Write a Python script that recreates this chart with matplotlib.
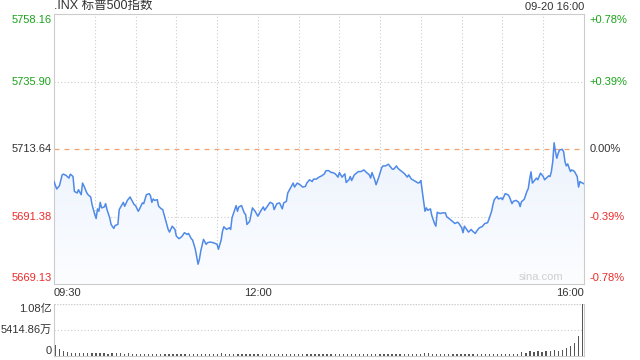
import numpy as np
import matplotlib
matplotlib.use("Agg")
import matplotlib.pyplot as plt
from matplotlib.colors import LinearSegmentedColormap
from matplotlib.patches import Polygon

plt.rcParams['font.family'] = ['Liberation Sans', 'Noto Sans CJK SC', 'DejaVu Sans']

# minutes after 09:30 and index level
minutes = [0, 2, 4, 6, 7, 9, 11, 12, 14, 15, 17, 18, 20, 21, 22, 24, 25, 27, 28, 30,
           31, 32, 33, 34, 35, 37, 38, 39, 41, 42, 44, 45, 47, 48, 50, 51, 52, 54, 56, 57,
           59, 60, 62, 63, 65, 66, 68, 70, 71, 72, 73, 74, 76, 77, 79, 80, 82, 84, 85, 87,
           89, 90, 92, 94, 96, 98, 99, 101, 102, 104, 106, 107, 108, 110, 112, 113, 115, 117, 119, 120,
           121, 123, 124, 125, 127, 129, 130, 131, 133, 134, 135, 136, 138, 140, 141, 142, 144, 146, 148, 150,
           152, 154, 155, 157, 159, 161, 162, 164, 166, 168, 169, 171, 172, 174, 176, 177, 179, 181, 183, 185,
           186, 188, 190, 191, 193, 195, 197, 199, 200, 202, 204, 205, 207, 209, 210, 212, 214, 215, 217, 218,
           219, 221, 223, 224, 226, 228, 230, 232, 233, 234, 236, 237, 239, 240, 241, 242, 244, 246, 247, 249,
           250, 252, 253, 255, 256, 258, 260, 261, 263, 264, 266, 268, 269, 270, 271, 272, 273, 274, 275, 277,
           278, 280, 281, 282, 284, 286, 288, 289, 291, 293, 295, 297, 298, 300, 301, 302, 304, 305, 307, 308,
           310, 311, 313, 315, 317, 319, 320, 322, 323, 324, 326, 327, 329, 330, 332, 334, 335, 337, 338, 340,
           342, 343, 344, 346, 348, 349, 350, 351, 352, 353, 355, 356, 358, 360, 361, 363, 364, 365, 366, 367,
           368, 369, 370, 371, 372, 374, 375, 376, 377, 378, 380, 381, 382, 383, 385, 386, 387, 388, 390]
price = [5702.93, 5700.45, 5701.53, 5705.13, 5705.36, 5704.90, 5704.05, 5705.36, 5704.57, 5699.66,
         5699.14, 5700.22, 5698.58, 5702.41, 5701.53, 5699.33, 5698.58, 5697.83, 5695.31, 5692.03,
         5690.72, 5693.90, 5693.11, 5696.06, 5694.23, 5694.55, 5695.63, 5693.67, 5690.95, 5688.76,
         5687.45, 5688.43, 5688.76, 5693.67, 5695.31, 5696.06, 5694.75, 5696.71, 5697.83, 5696.94,
         5695.31, 5695.00, 5693.11, 5693.90, 5695.86, 5695.63, 5698.58, 5698.91, 5698.25, 5696.06,
         5697.17, 5696.71, 5696.94, 5694.75, 5693.90, 5693.67, 5690.39, 5687.12, 5686.24, 5688.20,
         5687.12, 5684.93, 5684.08, 5684.73, 5686.04, 5685.48, 5685.81, 5684.08, 5683.62, 5680.57,
         5675.66, 5677.30, 5680.02, 5683.85, 5682.21, 5682.77, 5682.96, 5682.77, 5682.44, 5682.21,
         5680.57, 5683.62, 5686.56, 5688.01, 5687.12, 5687.68, 5687.12, 5690.95, 5693.67, 5694.98,
         5693.11, 5694.55, 5694.98, 5692.59, 5692.03, 5688.76, 5689.84, 5694.23, 5693.11, 5691.48,
         5693.11, 5694.55, 5693.44, 5694.75, 5696.06, 5695.63, 5693.67, 5695.63, 5695.86, 5693.90,
         5695.86, 5696.39, 5699.14, 5700.77, 5702.41, 5701.10, 5702.41, 5701.85, 5701.10, 5701.30,
         5702.41, 5703.49, 5702.93, 5703.72, 5703.72, 5704.37, 5704.80, 5705.45, 5706.44, 5706.54,
         5705.88, 5705.90, 5705.45, 5704.37, 5705.88, 5704.37, 5705.45, 5702.61, 5703.49, 5704.57,
         5703.26, 5705.13, 5705.88, 5706.21, 5706.21, 5706.76, 5705.88, 5705.13, 5704.05, 5705.88,
         5703.49, 5701.85, 5704.37, 5705.88, 5707.32, 5708.07, 5708.07, 5708.63, 5708.07, 5706.99,
         5706.99, 5708.07, 5707.32, 5706.54, 5706.21, 5705.45, 5704.37, 5705.13, 5703.72, 5703.49,
         5702.93, 5702.41, 5702.61, 5703.26, 5699.66, 5696.39, 5693.11, 5694.23, 5693.44, 5693.90,
         5691.71, 5689.08, 5688.20, 5692.78, 5692.36, 5692.59, 5692.59, 5691.28, 5690.62, 5689.84,
         5689.08, 5689.51, 5689.08, 5687.68, 5686.04, 5688.20, 5686.89, 5686.24, 5687.12, 5686.56,
         5685.81, 5686.56, 5687.68, 5688.01, 5689.08, 5689.31, 5690.39, 5693.11, 5695.31, 5696.94,
         5698.02, 5697.17, 5697.50, 5696.94, 5698.91, 5698.58, 5698.02, 5695.63, 5696.39, 5696.71,
         5696.06, 5694.65, 5696.29, 5697.04, 5699.66, 5700.61, 5703.72, 5706.11, 5702.41, 5702.93,
         5704.05, 5703.49, 5705.68, 5704.57, 5703.49, 5704.37, 5704.80, 5704.57, 5706.21, 5709.48,
         5715.70, 5712.76, 5710.60, 5712.23, 5713.31, 5713.54, 5712.76, 5709.48, 5708.07, 5708.73,
         5706.21, 5706.76, 5706.54, 5706.21, 5704.57, 5701.10, 5702.93, 5702.61, 5702.18]

prev_close = 5713.64
y_ticks = [5758.16, 5735.90, 5713.64, 5691.38, 5669.13]
pct_labels = ["+0.78%", "+0.39%", "0.00%", "-0.39%", "-0.78%"]
time_labels = ["09:30", "12:00", "16:00"]
time_ticks = [0, 150, 390]

# volume in 万 shares, one bar every 3 minutes
vol_minutes = list(range(0, 391, 3))
volume = [2300, 1500, 1100, 800, 700, 650, 600, 620, 580, 600, 550, 600, 580, 520, 560, 600, 540, 500,
          560, 520, 480, 500, 520, 470, 450, 480, 460, 440, 470, 430, 450, 420, 440, 410, 430, 460,
          420, 400, 430, 410, 450, 700, 520, 480, 440, 420, 450, 410, 430, 400, 390, 420, 400, 380,
          410, 390, 370, 400, 380, 360, 390, 370, 350, 380, 360, 340, 370, 350, 330, 360, 340, 350,
          330, 360, 340, 320, 350, 330, 340, 360, 330, 350, 320, 340, 360, 330, 350, 340, 400, 380,
          500, 620, 560, 480, 450, 420, 400, 380, 400, 370, 390, 420, 400, 380, 410, 430, 400, 420,
          440, 410, 430, 450, 420, 460, 480, 900, 700, 1000, 800, 950, 900, 1000, 1100, 1200, 1000,
          1300, 1600, 2000, 2700, 4200, 10800]
vol_ticks = [0, 5414.86, 10829.72]
vol_labels = ["0", "5414.86万", "1.08亿"]

green = "#1aa31a"
red = "#ee2b2b"
dark = "#333333"
grid_c = "#cccccc"
line_c = "#4f8ae8"

fig = plt.figure(figsize=(6.4, 3.6), dpi=100)
ax = fig.add_axes([54 / 640, 1 - 284 / 360, 530 / 640, 270 / 360])
axv = fig.add_axes([54 / 640, 1 - 356 / 360, 530 / 640, 52 / 360])

ymin, ymax = y_ticks[-1], y_ticks[0]
ax.set_xlim(0, 390)
ax.set_ylim(ymin, ymax)

# gradient fill under the line
cmap = LinearSegmentedColormap.from_list("fill", ["#fcfdff", "#dae7fb"])
grad = np.linspace(0, 1, 256).reshape(-1, 1)
im = ax.imshow(grad, extent=[0, 390, ymin, ymax], origin="lower", aspect="auto",
               cmap=cmap, zorder=1, vmin=0, vmax=1.15)
poly = Polygon(list(zip(minutes, price)) + [(390, ymin), (0, ymin)], closed=True,
               facecolor="none", edgecolor="none")
ax.add_patch(poly)
im.set_clip_path(poly)

ax.plot(minutes, price, color=line_c, lw=1.1, zorder=3)

for t in range(30, 390, 30):
    ax.axvline(t, color=grid_c, lw=0.8, ls=(0, (1, 2)), zorder=0)
for v in [y_ticks[1], y_ticks[3]]:
    ax.axhline(v, color=grid_c, lw=0.8, ls=(0, (1, 2)), zorder=0)
ax.axhline(prev_close, color="#f0a070", lw=0.9, ls=(0, (4, 4)), zorder=2)

for s in ax.spines.values():
    s.set_color(grid_c)
    s.set_linewidth(0.8)
ax.set_xticks([])
ax.set_yticks([])

colors = [green, green, dark, red, red]
vas = ["top", "center", "center", "center", "bottom"]
offs = [-0.004, 0, 0, 0, 0.004]
for v, lab, pl, c, va, o in zip(y_ticks, [f"{v:.2f}" for v in y_ticks], pct_labels, colors, vas, offs):
    yy = (v - ymin) / (ymax - ymin) + o
    ax.text(-0.004, yy, lab, transform=ax.transAxes, ha="right", va=va, fontsize=8, color=c)
    ax.text(1.01, yy, pl, transform=ax.transAxes, ha="left", va=va, fontsize=8, color=c)

has = ["left", "center", "right"]
for t, lab, h in zip(time_ticks, time_labels, has):
    ax.text(t, ymin - 3.0, lab, ha=h, va="center", fontsize=8, color=dark)

ax.text(0, ymax + 0.8, ".INX 标普500指数", ha="left", va="bottom", fontsize=9, color=dark)
ax.text(390, ymax + 0.8, "09-20 16:00", ha="right", va="bottom", fontsize=8, color=dark)
ax.text(375, ymin + 0.6, "sina.com", ha="right", va="bottom", fontsize=8, color="#cfcfcf")

# volume panel
axv.bar(vol_minutes, volume, width=1.0, color="#555555", zorder=2)
axv.set_xlim(-1, 391)
axv.set_ylim(0, vol_ticks[2])
axv.axhline(vol_ticks[1], color=grid_c, lw=0.8, ls=(0, (1, 2)), zorder=0)
axv.axhline(vol_ticks[2], color=grid_c, lw=1.0, ls=(0, (1, 1)), zorder=0)
axv.spines["top"].set_visible(False)
for k in ["left", "right", "bottom"]:
    axv.spines[k].set_color(grid_c)
    axv.spines[k].set_linewidth(0.8)
axv.set_xticks([])
axv.set_yticks([])
vvas = ["bottom", "center", "top"]
for v, lab, va in zip(vol_ticks, vol_labels, vvas):
    axv.text(-0.004, v / vol_ticks[2], lab, transform=axv.transAxes, ha="right", va=va,
             fontsize=8, color=dark)

fig.savefig("out.png", dpi=100, facecolor="white")
